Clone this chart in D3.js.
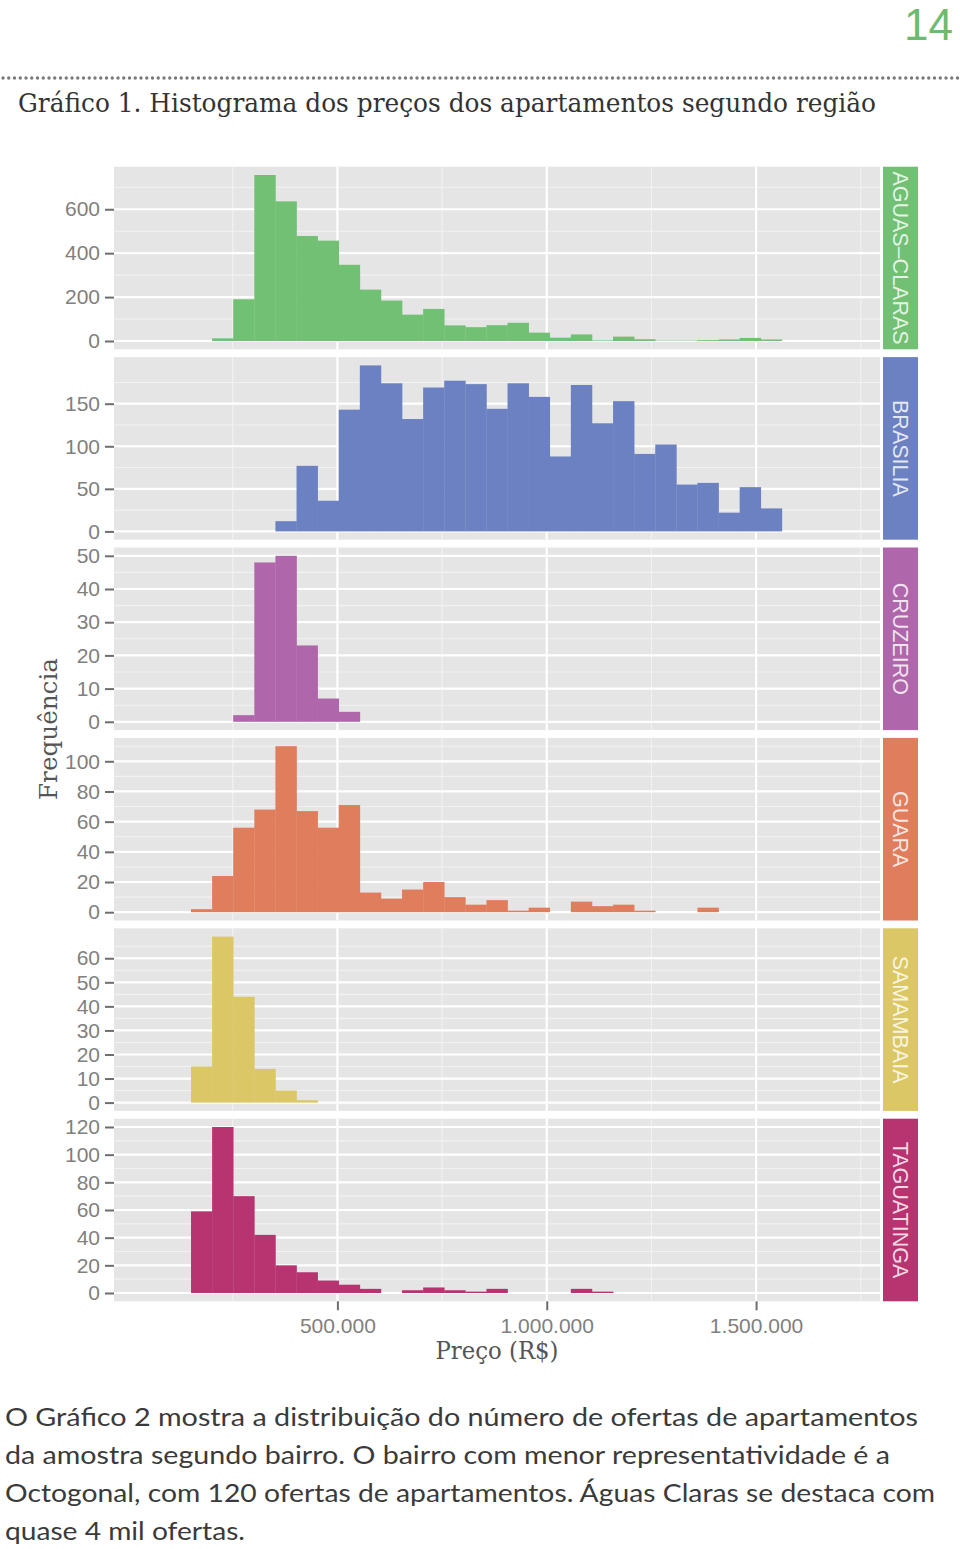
<!DOCTYPE html>
<html><head><meta charset="utf-8">
<script src="https://cdn.jsdelivr.net/npm/d3@7"></script>
<style>html,body{margin:0;padding:0;background:#fff;}</style>
</head><body>
<script>
// ---- data ----
const regions = ["AGUAS–CLARAS", "BRASILIA", "CRUZEIRO", "GUARA", "SAMAMBAIA", "TAGUATINGA"];
const regionColors = ["#71c073", "#6c81c1", "#b066aa", "#e07d5d", "#dbc765", "#b73470"];
const binStart = 49600, binWidth = 50400, nBins = 33;
const countsAguasClaras = [0,0,0,12,190,756,636,478,457,347,234,184,120,146,71,63,72,83,38,15,30,3,20,8,2,2,4,7,14,7,0,0,0];
const countsBrasilia    = [0,0,0,0,0,0,12,77,36,143,195,174,132,169,177,173,144,174,158,88,172,127,153,91,102,55,57,22,52,27,0,0,0];
const countsCruzeiro    = [0,0,0,0,2,48,50,23,7,3,0,0,0,0,0,0,0,0,0,0,0,0,0,0,0,0,0,0,0,0,0,0,0];
const countsGuara       = [0,0,2,24,56,68,110,67,56,71,13,9,15,20,10,5,8,1,3,0,7,4,5,1,0,0,3,0,0,0,0,0,0];
const countsSamambaia   = [0,0,15,69,44,14,5,1,0,0,0,0,0,0,0,0,0,0,0,0,0,0,0,0,0,0,0,0,0,0,0,0,0];
const countsTaguatinga  = [0,0,59,120,70,42,20,15,9,6,3,0,2,4,2,1,3,0,0,0,3,1,0,0,0,0,0,0,0,0,0,0,0];
const allCounts = [countsAguasClaras, countsBrasilia, countsCruzeiro, countsGuara, countsSamambaia, countsTaguatinga];
const yTicks = [[0,200,400,600],[0,50,100,150],[0,10,20,30,40,50],[0,20,40,60,80,100],[0,10,20,30,40,50,60],[0,20,40,60,80,100,120]];
const xTicks = [500000, 1000000, 1500000];
const xMinor = [250000, 750000, 1250000, 1750000];
const titleText = "Gráfico 1. Histograma dos preços dos apartamentos segundo região";
const pageNumber = "14";
const paragraph = [
  "O Gráfico 2 mostra a distribuição do número de ofertas de apartamentos",
  "da amostra segundo bairro. O bairro com menor representatividade é a",
  "Octogonal, com 120 ofertas de apartamentos. Águas Claras se destaca com",
  "quase 4 mil ofertas."
];

// ---- layout ----
const W = 960, Hpage = 1549;
const panelL = 114, panelR = 880, panelTop0 = 166.7, panelStep = 190.4, panelH = 182.6;
const stripX = 883, stripW = 35;

const svg = d3.select("body").append("svg").attr("width", W).attr("height", Hpage)
  .style("display","block").style("background","#fff");

const locale = d3.formatLocale({decimal: ",", thousands: ".", grouping: [3], currency: ["R$", ""]});
const fmt = locale.format(",");

const binEnd = binStart + nBins * binWidth;
const R = binEnd - binStart;
const x = d3.scaleLinear().domain([binStart - 0.05 * R, binEnd + 0.05 * R]).range([panelL, panelR]);

const tickColor = "#6e6e6e", labelColor = "#808080";
const sans = "'Liberation Sans', Arial, Helvetica, sans-serif";
const serif = "'DejaVu Serif', serif";

// page number
svg.append("text").attr("x", 953).attr("y", 40).attr("text-anchor", "end")
  .attr("font-family", sans).attr("font-size", 44)
  .attr("fill", "#6cbb6e").text(pageNumber);

// dotted rule
svg.append("line").attr("x1", 3).attr("x2", 958).attr("y1", 78).attr("y2", 78)
  .attr("stroke", "#7a7a7a").attr("stroke-width", 3.4).attr("stroke-linecap", "round")
  .attr("stroke-dasharray", "0 5.75");

// title
svg.append("text").attr("x", 18).attr("y", 112).attr("font-family", serif).attr("font-size", 26)
  .attr("fill", "#333").attr("textLength", 858).attr("lengthAdjust", "spacingAndGlyphs").text(titleText);

allCounts.forEach((counts, i) => {
  const top = panelTop0 + i * panelStep;
  const g = svg.append("g").attr("transform", `translate(0,${top})`);
  const m = d3.max(counts);
  const y = d3.scaleLinear().domain([-0.05 * m, 1.05 * m]).range([panelH, 0]);
  const ticks = yTicks[i];
  const step = ticks[1] - ticks[0];
  const yMinor = d3.range(ticks[0] + step / 2, 1.05 * m, step).filter(v => v > -0.05 * m && v < 1.05 * m);

  g.append("rect").attr("x", panelL).attr("y", 0).attr("width", panelR - panelL).attr("height", panelH).attr("fill", "#e5e5e5");
  // minor grid
  g.selectAll(".ym").data(yMinor).join("line").attr("x1", panelL).attr("x2", panelR)
    .attr("y1", d => y(d)).attr("y2", d => y(d)).attr("stroke", "#f2f2f2").attr("stroke-width", 1.1);
  g.selectAll(".xm").data(xMinor).join("line").attr("y1", 0).attr("y2", panelH)
    .attr("x1", d => x(d)).attr("x2", d => x(d)).attr("stroke", "#f2f2f2").attr("stroke-width", 1.1);
  // major grid
  g.selectAll(".yM").data(ticks).join("line").attr("x1", panelL).attr("x2", panelR)
    .attr("y1", d => y(d)).attr("y2", d => y(d)).attr("stroke", "#fff").attr("stroke-width", 2.2);
  g.selectAll(".xM").data(xTicks).join("line").attr("y1", 0).attr("y2", panelH)
    .attr("x1", d => x(d)).attr("x2", d => x(d)).attr("stroke", "#fff").attr("stroke-width", 2.2);

  // bars
  const bins = counts.map((c, k) => ({c, x0: binStart + k * binWidth, x1: binStart + (k + 1) * binWidth})).filter(d => d.c > 0);
  g.selectAll(".bar").data(bins).join("rect")
    .attr("x", d => x(d.x0)).attr("width", d => x(d.x1) - x(d.x0) + 0.3)
    .attr("y", d => y(d.c)).attr("height", d => y(0) - y(d.c))
    .attr("fill", regionColors[i]);

  // y axis
  const ax = g.append("g").attr("transform", `translate(${panelL},0)`)
    .call(d3.axisLeft(y).tickValues(ticks).tickSize(9).tickPadding(5).tickFormat(d3.format("d")));
  ax.select(".domain").remove();
  ax.selectAll("line").attr("stroke", tickColor).attr("stroke-width", 2);
  ax.selectAll("text").attr("font-family", sans).attr("font-size", 21).attr("fill", labelColor);

  // strip
  g.append("rect").attr("x", stripX).attr("y", 0).attr("width", stripW).attr("height", panelH).attr("fill", regionColors[i]);
  g.append("text").attr("transform", `translate(${stripX + stripW / 2},${panelH / 2}) rotate(90)`)
    .attr("text-anchor", "middle").attr("dy", "0.35em")
    .attr("font-family", sans).attr("font-size", 21.5).attr("fill", "#fff").attr("fill-opacity", 0.82)
    .text(regions[i]);

  if (i === allCounts.length - 1) {
    const xa = g.append("g").attr("transform", `translate(0,${panelH})`)
      .call(d3.axisBottom(x).tickValues(xTicks).tickSize(9).tickPadding(8).tickFormat(fmt));
    xa.select(".domain").remove();
    xa.selectAll("line").attr("stroke", tickColor).attr("stroke-width", 2);
    xa.selectAll("text").attr("font-family", sans).attr("font-size", 21).attr("fill", labelColor);
  }
});

// axis titles
svg.append("text").attr("x", 497).attr("y", 1359).attr("text-anchor", "middle")
  .attr("font-family", serif).attr("font-size", 24).attr("fill", "#555")
  .attr("textLength", 123).attr("lengthAdjust", "spacingAndGlyphs").text("Preço (R$)");
svg.append("text").attr("transform", "translate(57,729) rotate(-90)").attr("text-anchor", "middle")
  .attr("font-family", serif).attr("font-size", 24).attr("fill", "#555")
  .attr("textLength", 142).attr("lengthAdjust", "spacingAndGlyphs").text("Frequência");

// paragraph
const paraWidths = [913, 885, 930, 240];
svg.selectAll(".para").data(paragraph).join("text")
  .attr("x", 5).attr("y", (d, k) => 1426 + k * 38)
  .attr("font-family", "Lato, 'Open Sans', sans-serif").attr("font-size", 25).attr("fill", "#3a3a3a")
  .attr("textLength", (d, k) => paraWidths[k]).attr("lengthAdjust", "spacingAndGlyphs")
  .text(d => d);
</script>
</body></html>
